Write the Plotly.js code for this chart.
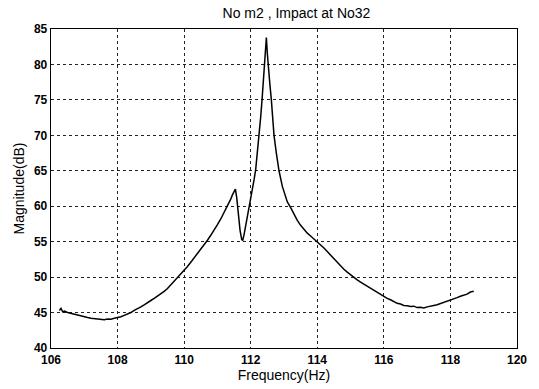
<!DOCTYPE html>
<html>
<head>
<meta charset="utf-8">
<script src="https://cdn.plot.ly/plotly-3.0.1.min.js"></script>
<style>html,body{margin:0;padding:0;background:#fff;}#chart{width:539px;height:389px;}</style>
</head>
<body>
<div id="chart"></div>
<script>
const freq = [106.25,106.3,106.35,106.4,106.5,106.6,106.7,106.8,106.9,107.0,107.1,107.2,107.3,107.4,107.5,107.6,107.7,107.8,107.9,108.0,
108.1,108.2,108.3,108.4,108.5,108.6,108.7,108.8,108.9,109.0,109.1,109.2,109.3,109.4,109.5,109.6,109.7,109.8,109.9,110.0,
110.1,110.2,110.3,110.4,110.5,110.6,110.7,110.8,110.9,111.0,111.1,111.2,111.3,111.4,111.45,111.5,111.54,111.58,111.63,111.68,
111.73,111.76,111.8,111.85,111.9,111.95,112.0,112.05,112.1,112.15,112.2,112.25,112.3,112.34,112.38,112.41,112.44,112.47,112.5,112.52,
112.57,112.62,112.66,112.7,112.77,112.85,112.95,113.05,113.1,113.2,113.3,113.4,113.5,113.6,113.7,113.8,113.9,114.0,114.1,114.2,
114.3,114.4,114.5,114.6,114.7,114.8,114.9,115.0,115.1,115.2,115.3,115.4,115.5,115.6,115.7,115.8,115.9,116.0,116.1,116.2,
116.3,116.4,116.5,116.6,116.7,116.8,116.9,117.0,117.1,117.2,117.3,117.4,117.5,117.6,117.7,117.8,117.9,118.0,118.1,118.2,
118.3,118.4,118.5,118.6,118.7];
const magnitude = [45.3,45.6,45.1,45.2,45.0,44.9,44.7,44.6,44.5,44.4,44.3,44.2,44.15,44.05,44.1,44.0,44.1,44.05,44.2,44.25,
44.4,44.6,44.75,45.0,45.3,45.5,45.8,46.1,46.35,46.7,47.0,47.3,47.7,48.0,48.4,48.9,49.4,49.9,50.5,51.0,
51.5,52.1,52.7,53.3,53.9,54.6,55.2,55.9,56.6,57.4,58.2,59.1,60.0,61.0,61.6,62.2,62.4,61.2,58.8,56.6,
55.3,55.2,56.0,57.2,58.6,59.8,61.0,62.3,63.7,65.2,67.5,70.0,72.6,75.0,77.5,80.0,82.0,83.8,81.5,80.0,
77.5,75.0,72.5,70.0,67.5,65.0,62.8,61.2,60.6,59.8,58.8,58.0,57.3,56.7,56.2,55.8,55.4,55.0,54.6,54.1,
53.6,53.1,52.6,52.0,51.6,51.1,50.7,50.3,49.9,49.6,49.3,49.0,48.7,48.4,48.1,47.9,47.6,47.3,47.0,46.8,
46.5,46.3,46.2,46.0,45.95,45.85,45.9,45.7,45.75,45.65,45.8,45.85,46.0,46.1,46.25,46.4,46.6,46.7,46.9,47.1,
47.3,47.4,47.6,47.9,48.0];
const xTicks = [106,108,110,112,114,116,118,120];
const yTicks = [40,45,50,55,60,65,70,75,80,85];

const font = 'Liberation Sans, Arial, sans-serif';
const trace = {
  x: freq, y: magnitude, type: 'scatter', mode: 'lines',
  line: {color: '#000', width: 1.5}, hoverinfo: 'skip'
};
const axisCommon = {
  showline: true, linecolor: '#000', linewidth: 1.3, mirror: true,
  showgrid: true, gridcolor: '#222', griddash: 'dot', gridwidth: 1,
  zeroline: false, ticks: '',
  tickfont: {family: font, size: 12, color: '#000', weight: 700}
};
const layout = {
  width: 539, height: 389,
  margin: {l: 51, r: 22, t: 29, b: 41},
  paper_bgcolor: '#fff', plot_bgcolor: '#fff',
  showlegend: false,
  title: {text: 'No m2 , Impact at No32', font: {family: font, size: 14, color: '#000'}, x: 0.55, xanchor: 'center', y: 0.966, yanchor: 'middle'},
  xaxis: Object.assign({}, axisCommon, {
    range: [106, 120], tickvals: xTicks, ticktext: xTicks.map(String),
    title: {text: 'Frequency(Hz)', font: {family: font, size: 14, color: '#000'}, standoff: 2}
  }),
  yaxis: Object.assign({}, axisCommon, {
    range: [40, 85], tickvals: yTicks, ticktext: yTicks.map(String),
    title: {text: 'Magnitude(dB)', font: {family: font, size: 14, color: '#000'}, standoff: 6}
  })
};
Plotly.newPlot('chart', [trace], layout, {staticPlot: true, displayModeBar: false});
</script>
</body>
</html>
